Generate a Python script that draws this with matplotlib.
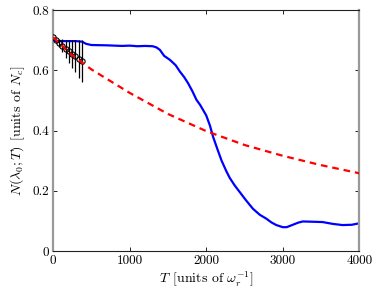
import numpy as np
import matplotlib
matplotlib.use("Agg")
import matplotlib.pyplot as plt

plt.rcParams['font.family'] = 'serif'
plt.rcParams['font.serif'] = ['cmr10', 'DejaVu Serif']
plt.rcParams['mathtext.fontset'] = 'cm'
plt.rcParams['axes.formatter.use_mathtext'] = True
plt.rcParams['axes.unicode_minus'] = False

# simulation (blue solid)
t_sim = [0, 100, 200, 300, 380, 430, 500, 700, 900, 1000, 1100, 1200, 1300,
         1350, 1394, 1450, 1524, 1600, 1655, 1710, 1763, 1820, 1872, 1920,
         1959, 2000, 2050, 2088, 2150, 2200, 2262, 2306, 2370, 2436, 2520,
         2610, 2700, 2780, 2850, 2915, 3000, 3050, 3130, 3200, 3260, 3400,
         3520, 3650, 3780, 3900, 4000]
n_sim = [0.698, 0.697, 0.697, 0.697, 0.695, 0.688, 0.684, 0.683, 0.681, 0.682,
         0.680, 0.681, 0.680, 0.676, 0.668, 0.648, 0.635, 0.617, 0.596, 0.578,
         0.557, 0.530, 0.502, 0.485, 0.468, 0.450, 0.415, 0.380, 0.335, 0.300,
         0.265, 0.243, 0.218, 0.196, 0.168, 0.140, 0.120, 0.108, 0.095, 0.086,
         0.079, 0.079, 0.087, 0.094, 0.098, 0.097, 0.096, 0.090, 0.086, 0.087,
         0.092]

# model (red dashed)
t_fit = [0, 250, 500, 1000, 1500, 2000, 2500, 3000, 3500, 4000]
n_fit = [0.710, 0.650, 0.603, 0.525, 0.455, 0.398, 0.352, 0.316, 0.285, 0.258]

# data points with error bars
t_pts = [0, 40, 80, 120, 165, 210, 250, 290, 335, 375]
n_pts = [0.709, 0.700, 0.691, 0.682, 0.672, 0.663, 0.655, 0.647, 0.638, 0.630]
err_pts = [0.0, 0.005, 0.012, 0.022, 0.030, 0.038, 0.046, 0.054, 0.062, 0.070]

fig = plt.figure(figsize=(3.74, 2.97), dpi=100)
ax = fig.add_axes([0.142, 0.155, 0.819, 0.811])

ax.plot(t_sim, n_sim, color='#0000ff', lw=1.6, zorder=2)
ax.errorbar(t_pts, n_pts, yerr=err_pts, fmt='o', mfc='none', mec='black',
            ecolor='black', ms=3.8, mew=0.8, elinewidth=0.9, capsize=0, zorder=3)
ax.plot(t_fit, n_fit, color='#ff0000', lw=1.6, ls=(0, (3, 2.2)), zorder=4)

ax.set_xlim(0, 4000)
ax.set_ylim(0, 0.8)
ax.set_xticks([0, 1000, 2000, 3000, 4000])
ax.set_yticks([0, 0.2, 0.4, 0.6, 0.8])
ax.set_xticklabels(['0', '1000', '2000', '3000', '4000'])
ax.set_yticklabels(['0', '0.2', '0.4', '0.6', '0.8'])
ax.tick_params(direction='in', top=True, right=True, length=3, width=0.6,
               labelsize=9.5, pad=3)

for s in ['top', 'bottom']:
    ax.spines[s].set_color('#222222')
    ax.spines[s].set_linewidth(0.8)
for s in ['left', 'right']:
    ax.spines[s].set_color('#999999')
    ax.spines[s].set_linewidth(1.6)

ax.set_xlabel(r'$T\;\,$[units of $\omega_r^{-1}$]', fontsize=10, labelpad=2)
ax.set_ylabel(r'$N(\lambda_0;T)\;\,$[units of $N_c$]', fontsize=10, labelpad=4)

fig.savefig('out.png', dpi=100)
